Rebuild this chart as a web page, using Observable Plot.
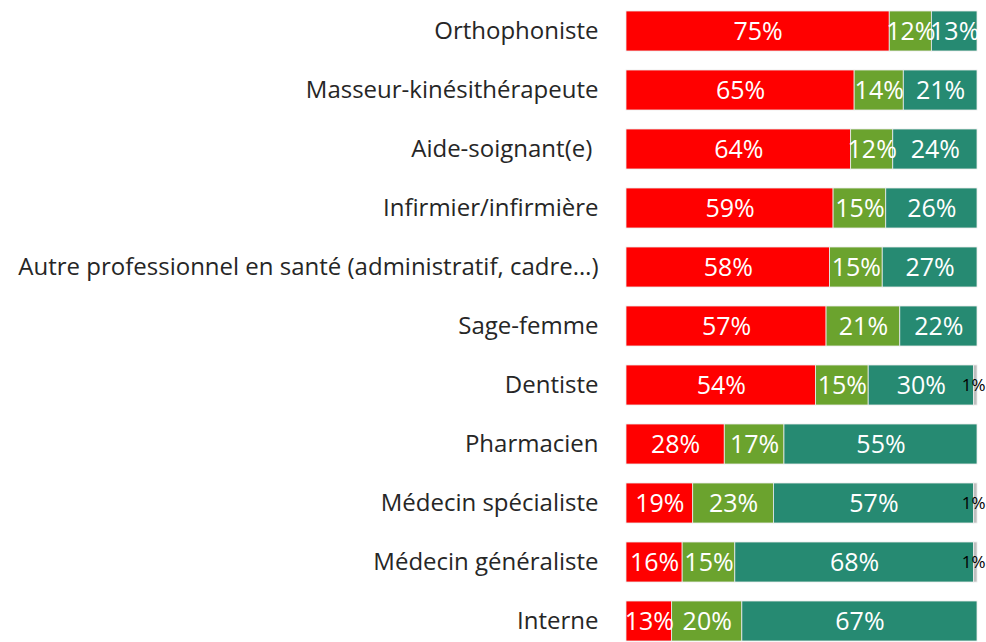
<!DOCTYPE html>
<html>
<head>
<meta charset="utf-8">
<script src="https://cdn.jsdelivr.net/npm/d3@7"></script>
<script src="https://cdn.jsdelivr.net/npm/@observablehq/plot@0.6"></script>
<style>
  html, body { margin: 0; padding: 0; background: white; overflow: hidden; }
  #chart text { white-space: pre; }
</style>
</head>
<body>
<div id="chart"></div>
<script>
const categories = [
  "Orthophoniste",
  "Masseur-kinésithérapeute",
  "Aide-soignant(e) ",
  "Infirmier/infirmière",
  "Autre professionnel en santé (administratif, cadre…)",
  "Sage-femme",
  "Dentiste",
  "Pharmacien",
  "Médecin spécialiste",
  "Médecin généraliste",
  "Interne"
];
const seriesNames = ["Rouge", "Vert", "Sarcelle", "Gris"];
const serieRouge    = [75, 65, 64, 59, 58, 57, 54, 28, 19, 16, 13];
const serieVert     = [12, 14, 12, 15, 15, 21, 15, 17, 23, 15, 20];
const serieSarcelle = [13, 21, 24, 26, 27, 22, 30, 55, 57, 68, 67];
const serieGris     = [0, 0, 0, 0, 0, 0, 1, 0, 1, 1, 0];
const colors = ["#ff0000", "#6ba32e", "#268a72", "#bfbfbf"];

const allSeries = [serieRouge, serieVert, serieSarcelle, serieGris];
const data = [];
categories.forEach((c, i) => {
  allSeries.forEach((s, k) => {
    data.push({cat: c, series: seriesNames[k], value: s[i]});
  });
});

const stackOpts = (extra) => Plot.stackX({x: "value", y: "cat", z: "series", order: seriesNames, ...extra});

const chart = Plot.plot({
  width: 986,
  height: 642,
  marginLeft: 626,
  marginRight: 9,
  marginTop: 0,
  marginBottom: 0,
  style: {fontFamily: "Open Sans", background: "white", overflow: "hidden"},
  x: {domain: [0, 100], axis: null},
  y: {domain: categories, range: [-10.2, 661.9], padding: 0.315, label: null},
  color: {domain: seriesNames, range: colors},
  marks: [
    Plot.barX(data, stackOpts({fill: "series", stroke: "#ececec", strokeWidth: 0.8})),
    Plot.textX(data, stackOpts({
      text: d => (d.series !== "Gris" && d.value > 0) ? d.value + "%" : "",
      fill: "white", fontSize: 25
    })),
    Plot.textX(data, stackOpts({
      text: d => (d.series === "Gris" && d.value > 0) ? d.value + "%" : "",
      fill: "black", fontSize: 17, letterSpacing: -3, dx: -2
    })),
    Plot.axisY({tickSize: 0, tickPadding: 28, fontSize: 24, fill: "#262626", label: null})
  ]
});
document.getElementById("chart").appendChild(chart);
</script>
</body>
</html>
